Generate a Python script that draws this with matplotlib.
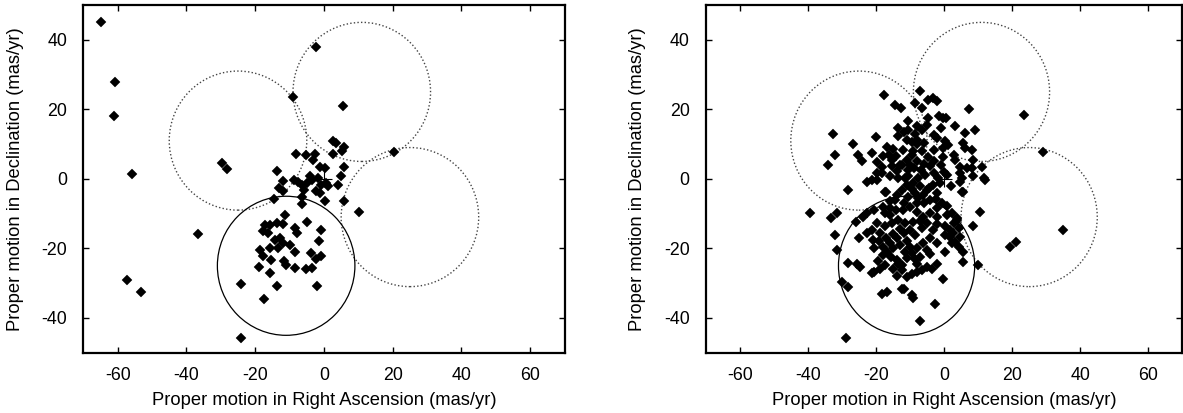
import matplotlib
matplotlib.use('Agg')
import matplotlib.pyplot as plt
from matplotlib.patches import Circle

plt.rcParams['font.family'] = ['Liberation Sans', 'DejaVu Sans']
plt.rcParams['font.size'] = 13
plt.rcParams['axes.unicode_minus'] = False

# circle centres (mas/yr) and radius
circle_solid = (-11, -25)
circles_dotted = [(-25, 11), (11, 25), (25, -11)]
radius = 20

x_ticks = [-60, -40, -20, 0, 20, 40, 60]
y_ticks = [-40, -20, 0, 20, 40]

# left panel
left_pts = [
    (-64.8, 45.2), (-60.7, 27.8), (-61.2, 18.2), (-55.8, 1.3), (-29.6, 4.5), (-28.2, 2.8),
    (-36.5, -15.9), (-57.4, -29.2), (-53.3, -32.4), (-24.1, -30.3), (-17.5, -34.6), (-24.2, -45.8),
    (-2.4, 37.8), (-9.0, 23.4), (5.4, 21.0), (20.4, 7.8),
    (2.6, 11.0), (3.4, 10.2), (5.9, 9.3), (5.2, 7.9), (2.5, 7.2), (-8.1, 7.2), (-5.3, 6.9),
    (-2.6, 7.2), (-3.1, 5.5), (0.3, 3.1), (5.9, 3.5), (4.9, 0.7), (4.2, -1.7), (-1.1, 3.5),
    (-4.2, 0.9), (-13.6, 2.4), (-11.9, -0.6), (-13.1, -2.7), (-11.9, -3.6), (-8.6, -0.3),
    (-7.5, -0.8), (-6.3, -1.7), (-5.0, -1.1), (-5.7, -3.2), (-3.6, -0.3), (-1.8, 0.2),
    (-0.9, -1.7), (0.6, -1.1), (1.3, -2.2), (-2.4, -3.6), (-1.2, -4.0), (-6.3, -5.1),
    (0.3, -6.5), (5.7, -6.3), (-14.5, -5.8), (-6.3, -7.2), (10.1, -9.4),
    (-11.4, -10.3), (-17.2, -13.2), (-15.8, -13.2), (-13.8, -12.7), (-11.9, -13.0),
    (-17.7, -15.1), (-16.3, -15.6), (-8.4, -14.2), (-7.8, -15.6), (-4.8, -12.5), (-0.8, -14.8),
    (-1.4, -18.0), (-14.3, -17.5), (-12.8, -17.0), (-11.9, -18.5), (-15.8, -19.9), (-13.3, -19.9),
    (-9.9, -19.0), (-8.4, -20.9), (-18.7, -20.4), (-17.7, -22.3), (-15.3, -23.3), (-11.6, -23.5),
    (-10.9, -24.7), (-8.4, -25.7), (-5.3, -26.0), (-3.6, -25.7), (-3.9, -21.4), (-2.4, -23.1),
    (-1.0, -22.3), (-19.0, -25.4), (-15.8, -27.1), (-13.6, -30.9), (-1.9, -30.8),
]

# right panel
right_pts = [
    (-17.6, 24.0), (-7.0, 25.4), (-8.5, 21.8), (-6.5, 20.4), (-4.6, 22.8), (-3.1, 23.3), (-2.1, 22.3),
    (-14.4, 21.3), (-12.7, 20.5), (7.2, 20.2), (23.5, 18.3),
    (-10.5, 16.5), (-4.6, 17.5), (-1.6, 18.0), (-0.2, 17.5), (0.6, 17.5), (-8.0, 15.1), (-6.6, 14.1),
    (3.2, 15.1), (-13.4, 14.6), (-11.9, 13.6), (-13.4, 12.2), (-10.5, 14.1), (-11.0, 11.2),
    (-32.7, 13.0), (-20.0, 12.1), (-26.8, 10.1), (-32.0, 6.9), (-34.0, 4.0), (-25.4, 6.9),
    (-24.0, 5.2), (-21.2, 7.4), (-16.8, 9.3),
    (-2.9, 12.7), (-2.0, 11.7), (6.2, 13.2), (9.1, 14.1), (-7.8, 11.3), (-5.8, 10.3), (0.3, 10.8),
    (1.3, 9.8), (-0.4, 8.8), (5.7, 10.3), (6.2, 8.8), (-2.9, 8.3), (-4.6, 6.4), (-6.6, 7.9),
    (8.1, 8.3), (-9.5, 6.9), (-11.0, 5.5), (-12.4, 4.1), (-0.2, 6.4), (2.8, 6.9), (3.2, 5.5),
    (8.6, 5.5), (11.1, 3.5), (4.7, 3.5), (6.7, 3.1), (8.1, 3.1), (-8.9, 3.1), (-6.9, 2.6),
    (-4.0, 3.6), (-3.0, 1.6), (0.0, 2.1), (4.7, 1.6), (8.6, 0.7), (11.6, 0.2), (-10.5, 0.7),
    (-7.6, 0.2), (-1.7, 0.2), (29.2, 7.6),
    (-19.8, 4.8), (-18.3, 3.5), (-16.3, 6.9), (-15.4, 5.5), (-14.0, 6.5), (-13.0, 4.1), (-13.9, 2.2),
    (-15.4, 3.6), (-19.8, 1.6), (-21.2, -0.3), (-22.7, -0.8), (-10.5, 2.6), (-11.5, 0.2),
    (-13.4, 0.2), (-15.9, 0.7), (-9.0, 8.0), (-12.0, 8.2), (-8.0, 5.0), (-6.0, 4.2), (-3.0, 5.2),
    (-1.0, 4.0), (1.0, 1.0), (2.0, -2.0), (-2.0, -4.0), (-4.0, -6.0), (-8.0, -7.0), (-12.0, -9.0),
    (-6.0, -7.0), (12.0, -0.3), (5.2, 0.2), (-19.8, -0.3), (-18.3, 1.6), (5.5, -3.7), (-17.0, -3.7),
    (-28.1, -3.2), (-17.3, -3.9), (-13.9, -4.6), (-12.4, -3.2), (-10.9, -1.7), (-9.0, -1.2),
    (-7.0, -2.2), (-5.1, -3.2), (-3.1, -1.7), (-1.1, -1.2), (-8.5, -4.1), (-6.1, -4.6),
    (-10.5, -5.1), (5.2, -3.7), (4.7, -0.8), (10.6, -9.4),
    (-39.4, -9.9), (-31.5, -9.9), (-33.3, -11.3), (-25.9, -12.3), (-32.0, -16.1), (-25.1, -17.1),
    (-31.5, -20.5), (-28.1, -24.3), (-25.6, -24.5), (-24.7, -25.4),
    (-0.7, -7.0), (0.8, -7.8), (2.3, -9.9), (3.8, -11.3), (2.8, -12.8), (4.3, -14.2), (8.6, -13.7),
    (0.3, -20.9), (5.7, -20.9), (2.3, -18.5), (4.3, -19.5), (5.7, -23.8), (10.1, -24.8),
    (1.8, -16.6), (3.2, -18.1), (2.7, -15.7), (4.7, -16.6), (0.3, -13.7), (1.8, -14.7),
    (-2.2, -10.9), (1.0, -10.4), (3.7, -11.8),
    (-5.1, -12.8), (-3.1, -14.7), (-4.1, -17.1), (-6.1, -18.5), (-8.0, -20.0), (-9.5, -21.4),
    (-10.9, -22.9), (-2.2, -18.5), (-5.1, -20.5), (-7.0, -22.4),
    (-2.2, -8.5), (-4.1, -9.9), (-6.1, -10.9), (-8.0, -9.4), (-10.0, -8.0), (-11.9, -7.0),
    (-14.4, -6.0), (-15.8, -8.5), (-17.3, -9.9), (-17.8, -8.0), (-16.0, -6.5),
    (-20.7, -9.0), (-22.7, -9.9), (-23.7, -10.9),
    (-19.8, -12.8), (-21.2, -14.7), (-22.7, -15.7), (-18.8, -15.7), (-17.3, -13.7), (-15.4, -12.8),
    (-13.4, -11.8), (-11.5, -12.8), (-10.0, -14.7), (-8.5, -16.1), (-11.9, -15.7), (-13.9, -17.1),
    (-15.8, -18.5), (-17.8, -19.5), (-16.8, -20.9), (-14.9, -20.0), (-12.9, -19.0), (-10.9, -18.0),
    (-10.0, -19.5), (-13.9, -23.3), (-12.4, -24.8), (0.3, -16.1),
    (-30.1, -29.7), (-28.1, -31.1), (-20.7, -26.8), (-18.8, -25.8), (-17.3, -24.9), (-16.8, -32.6),
    (-18.3, -33.1), (-11.9, -31.6), (-9.5, -33.5), (-14.9, -25.8), (-13.9, -27.8), (-12.4, -26.3),
    (-10.9, -28.2), (-9.5, -27.3), (-8.0, -26.8), (-6.6, -26.3), (-5.1, -25.4), (-3.6, -25.8),
    (-2.2, -24.4), (-8.0, -24.4), (-13.4, -24.4), (-0.2, -28.7), (-2.7, -36.1), (-7.2, -40.9),
    (-28.9, -45.8), (-21.1, -27.2), (-12.2, -31.8), (-9.0, -34.4),
    (34.9, -14.7), (19.4, -19.5), (21.2, -18.3),
    # extra fill in the densest part of the cluster
    (-9.5, -3.0), (-7.5, -5.5), (-4.5, -2.5), (-2.5, -5.8), (-10.0, 4.0), (-5.5, 1.0), (-8.0, 10.0),
    (-13.0, -14.5), (-15.0, -16.0), (-17.0, -17.0), (-19.0, -18.0), (-20.5, -20.0), (-18.0, -22.0),
    (-15.5, -22.5), (-11.5, -21.0), (-8.5, -23.0), (-6.5, -14.0), (-7.0, -12.0), (-9.0, -12.5),
    (-16.0, -10.5), (-14.0, -9.0), (-21.0, -17.5), (-19.5, -23.5), (-2.0, -13.0), (-4.0, -21.5),
    (-8.5, 13.0), (-5.0, 15.5), (-9.5, 10.5), (-1.0, 14.5), (-15.0, 8.5), (-18.0, 6.5),
]

xlabel = 'Proper motion in Right Ascension (mas/yr)'
ylabel = 'Proper motion in Declination (mas/yr)'


def draw_panel(ax, pts):
    for c in circles_dotted:
        ax.add_patch(Circle(c, radius, fill=False, ec='#444444', lw=1.0, ls=(0, (1, 1.6))))
    ax.add_patch(Circle(circle_solid, radius, fill=False, ec='black', lw=0.9))
    ax.plot([0], [0], marker='+', ms=12, mew=0.8, color='black', ls='none')
    xs = [p[0] for p in pts]
    ys = [p[1] for p in pts]
    ax.plot(xs, ys, ls='none', marker='D', ms=5.3, mew=0.3, color='black')
    ax.set_xlim(-70, 70)
    ax.set_ylim(-50, 50)
    ax.set_xticks(x_ticks)
    ax.set_yticks(y_ticks)
    ax.tick_params(direction='in', top=True, right=True, length=4, width=1, labelsize=12.8)
    ax.tick_params(axis='x', pad=10)
    ax.tick_params(axis='y', pad=11.5)
    for s in ax.spines.values():
        s.set_linewidth(1.6)
    ax.set_xlabel(xlabel, fontsize=13.2, labelpad=6)
    ax.set_ylabel(ylabel, fontsize=13.2, labelpad=13)


fig = plt.figure(figsize=(11.83, 4.13), dpi=100)
ax1 = fig.add_axes([0.0704, 0.146, 0.4069, 0.8419])
ax2 = fig.add_axes([0.5965, 0.146, 0.4030, 0.8419])
draw_panel(ax1, left_pts)
draw_panel(ax2, right_pts)

fig.savefig('out.png', dpi=100)
